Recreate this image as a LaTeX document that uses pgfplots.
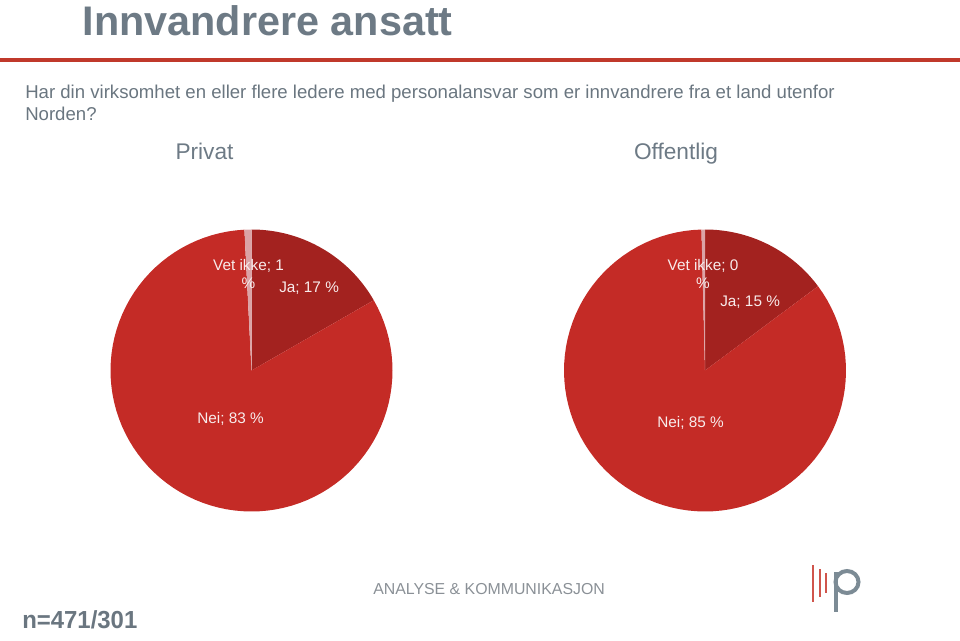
\documentclass[border=0pt]{standalone}
\usepackage{fontspec}
\setmainfont{Liberation Sans}
\usepackage{pgfplots}
\pgfplotsset{compat=1.18}
\definecolor{titlegray}{HTML}{6D7A85}
\definecolor{textgray}{HTML}{6A7680}
\definecolor{footgray}{HTML}{8A9096}
\definecolor{linered}{HTML}{C0392B}
\definecolor{neired}{HTML}{C42B26}
\definecolor{jared}{HTML}{A3221F}
\definecolor{vetpink}{HTML}{DBA3A6}
\definecolor{labelwhite}{HTML}{F8ECEC}
\definecolor{logored}{HTML}{D0554C}
\definecolor{logogray}{HTML}{7C8B95}

% #1 cumulative share before the slice, #2 share of the slice (in %), #3 colour
\newcommand{\pieslice}[3]{%
  \addplot[fill=#3, draw=none, domain=90-3.6*(#1+#2):90-3.6*(#1), samples=90, variable=\t]
    ({cos(\t)},{sin(\t)}) -- (axis cs:0,0) -- cycle;}

\pgfplotsset{pie/.style={
  scale only axis, width=211.5pt, height=211.5pt,
  xmin=-1, xmax=1, ymin=-1, ymax=1,
  hide axis, clip=false, anchor=center}}

\begin{document}
\begin{tikzpicture}[x=0.75pt,y=-0.75pt]
\useasboundingbox (0,0) rectangle (960,641);

% title and rule
\node[anchor=base west, inner sep=0, text=titlegray,
      font=\fontsize{31}{36}\selectfont\bfseries] at (82.5,36) {Innvandrere ansatt};
\fill[linered] (0,58.5) rectangle (960,62.5);

% question
\node[anchor=base west, inner sep=0, text=textgray,
      font=\fontsize{13.95}{16.5}\selectfont] at (25,99)
  {Har din virksomhet en eller flere ledere med personalansvar som er innvandrere fra et land utenfor};
\node[anchor=base west, inner sep=0, text=textgray,
      font=\fontsize{13.95}{16.5}\selectfont] at (25,121) {Norden?};

% pie titles
\node[anchor=base, inner sep=0, text=titlegray, font=\fontsize{17}{20}\selectfont] at (204.5,160) {Privat};
\node[anchor=base, inner sep=0, text=titlegray, font=\fontsize{17}{20}\selectfont] at (676,160) {Offentlig};

% Privat: Ja 16.7, Nei 82.5, Vet ikke 0.8
\begin{axis}[pie, at={(188.625pt,-277.875pt)}]
  \pieslice{0}{16.7}{jared}
  \pieslice{16.7}{82.5}{neired}
  \pieslice{99.2}{0.8}{vetpink}
\end{axis}

% Offentlig: Ja 14.8, Nei 84.8, Vet ikke 0.4
\begin{axis}[pie, at={(528.75pt,-277.875pt)}]
  \pieslice{0}{14.8}{jared}
  \pieslice{14.8}{84.8}{neired}
  \pieslice{99.6}{0.4}{vetpink}
\end{axis}

% slice labels
\begin{scope}[every node/.style={inner sep=0, text=labelwhite, font=\fontsize{11.5}{13}\selectfont}]
  \node[anchor=base] at (248.5,271) {Vet ikke; 1};
  \node[anchor=base] at (248.5,289) {\%};
  \node[anchor=base west] at (279,293) {Ja; 17 \%};
  \node[anchor=base west] at (197,423) {Nei; 83 \%};
  \node[anchor=base] at (703,271) {Vet ikke; 0};
  \node[anchor=base] at (703,289) {\%};
  \node[anchor=base west] at (720,307) {Ja; 15 \%};
  \node[anchor=base west] at (657,427) {Nei; 85 \%};
\end{scope}

% footer
\node[anchor=base west, inner sep=0, text=footgray, font=\fontsize{11.9}{13}\selectfont] at (373,594)
  {ANALYSE \& KOMMUNIKASJON};
\node[anchor=base west, inner sep=0, text=textgray, font=\fontsize{18.5}{20}\selectfont\bfseries] at (22,628)
  {\scalebox{0.97}[1]{n=471/301}};

% logo
\draw[logored, line width=1.2pt] (813,565) -- (813,602);
\draw[logored, line width=1.2pt] (820,569) -- (820,597);
\draw[logored, line width=1.2pt] (826,573) -- (826,593);
\draw[logogray, line width=3pt] (835.5,572) -- (835.5,612);
\draw[logogray, line width=3pt] (847,582) ellipse [x radius=11.5, y radius=11];
\end{tikzpicture}
\end{document}
